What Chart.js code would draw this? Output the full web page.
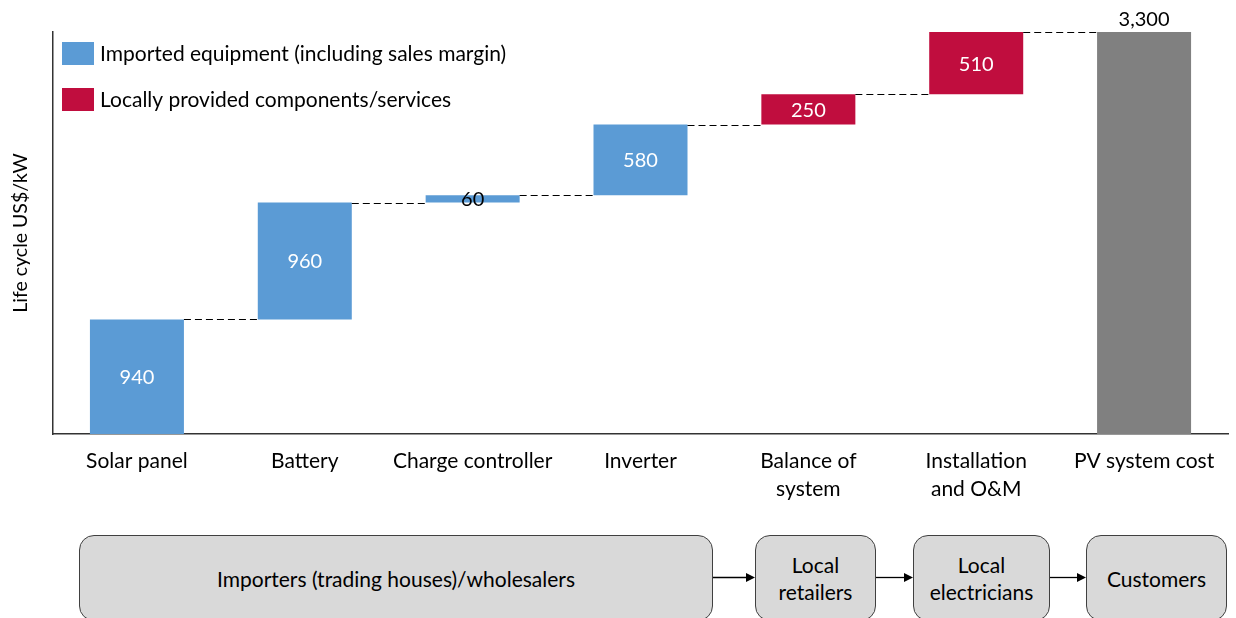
<!DOCTYPE html>
<html>
<head>
<meta charset="utf-8">
<script src="https://cdn.jsdelivr.net/npm/chart.js@4.4.0/dist/chart.umd.min.js"></script>
<style>
body { margin:0; background:#fff; overflow:hidden; }
#wrap { position:relative; width:1236px; height:618px; overflow:hidden; font-family: Lato, sans-serif; }
#c { position:absolute; left:0; top:0; }
.box { position:absolute; top:535px; height:86px; background:#d9d9d9; border:1.5px solid #404040; border-radius:15px;
  box-sizing:border-box; display:flex; align-items:center; justify-content:center; text-align:center;
  font-size:21px; line-height:27px; color:#000; }
svg { position:absolute; left:0; top:0; }
</style>
</head>
<body>
<div id="wrap">
<canvas id="c" width="1236" height="618"></canvas>
<div id="flow"></div>
<svg width="1236" height="618" id="arrows"></svg>
</div>
<script>
// waterfall data (US$/kW, life cycle)
var categories = [['Solar panel'], ['Battery'], ['Charge controller'], ['Inverter'], ['Balance of', 'system'], ['Installation', 'and O&M'], ['PV system cost']];
var stepValues = [940, 960, 60, 580, 250, 510];
var stepSource = ['imported', 'imported', 'imported', 'imported', 'local', 'local'];
var totalValue = 3300;
var legendLabels = ['Imported equipment (including sales margin)', 'Locally provided components/services'];
var flowLabels = [['Importers (trading houses)/wholesalers'], ['Local', 'retailers'], ['Local', 'electricians'], ['Customers']];

var BLUE = '#5b9bd5', RED = '#c00d3e', GREY = '#808080';

// build floating ranges
var imported = [], local = [], total = [];
var run = 0;
for (var i = 0; i < stepValues.length; i++) {
    var r = [run, run + stepValues[i]];
    imported.push(stepSource[i] === 'imported' ? r : null);
    local.push(stepSource[i] === 'local' ? r : null);
    total.push(null);
    run += stepValues[i];
}
imported.push(null); local.push(null); total.push([0, totalValue]);

function fmt(v) { return v.toLocaleString('en-US'); }

var extras = {
    id: 'extras',
    afterDatasetsDraw: function (chart) {
        var ctx = chart.ctx;
        var y = chart.scales.y;
        var area = chart.chartArea;
        // collect bars per category
        var bars = [];
        chart.data.datasets.forEach(function (ds, di) {
            var meta = chart.getDatasetMeta(di);
            ds.data.forEach(function (d, k) {
                if (d) bars[k] = { el: meta.data[k], range: d, ds: di };
            });
        });
        // dashed connectors
        ctx.save();
        ctx.strokeStyle = '#000';
        ctx.lineWidth = 1;
        ctx.setLineDash([7, 4]);
        for (var k = 0; k < bars.length - 1; k++) {
            var a = bars[k].el, b = bars[k + 1].el;
            var yy = Math.round(y.getPixelForValue(bars[k].range[1])) + 0.5;
            ctx.beginPath();
            ctx.moveTo(a.x + a.width / 2, yy);
            ctx.lineTo(b.x - b.width / 2, yy);
            ctx.stroke();
        }
        ctx.restore();
        // value labels
        ctx.save();
        ctx.font = '20px Lato';
        ctx.textAlign = 'center';
        bars.forEach(function (b, k) {
            var v = b.range[1] - b.range[0];
            var el = b.el;
            if (b.ds === 2) {
                ctx.fillStyle = '#000';
                ctx.textBaseline = 'bottom';
                ctx.fillText(fmt(v), el.x, el.y - 2);
            } else {
                ctx.fillStyle = v < 100 ? '#000' : '#fff';
                ctx.textBaseline = 'middle';
                ctx.fillText(fmt(v), el.x, (el.y + el.base) / 2 + 1);
            }
        });
        ctx.restore();
        // legend in top-left of plot
        ctx.save();
        ctx.font = '21px Lato';
        ctx.textBaseline = 'middle';
        ctx.textAlign = 'left';
        var cols = [BLUE, RED];
        legendLabels.forEach(function (t, k) {
            var top = area.top + 10 + k * 46;
            ctx.fillStyle = cols[k];
            ctx.fillRect(area.left + 9, top, 32, 23);
            ctx.fillStyle = '#000';
            ctx.fillText(t, area.left + 47, top + 12);
        });
        ctx.restore();
    }
};

new Chart(document.getElementById('c'), {
    type: 'bar',
    data: {
        labels: categories,
        datasets: [
            { label: legendLabels[0], data: imported, backgroundColor: BLUE },
            { label: legendLabels[1], data: local, backgroundColor: RED },
            { label: 'PV system cost', data: total, backgroundColor: GREY }
        ]
    },
    options: {
        responsive: false,
        animation: false,
        layout: { padding: { left: 0, top: 32, right: 8, bottom: 104 } },
        datasets: { bar: { grouped: false, barPercentage: 0.56, categoryPercentage: 1 } },
        plugins: { legend: { display: false }, tooltip: { enabled: false } },
        scales: {
            x: {
                grid: { display: false, drawTicks: false },
                border: { display: true, color: '#333', width: 1.5 },
                ticks: { color: '#000', font: { family: 'Lato', size: 21, lineHeight: 1.3 }, padding: 14, maxRotation: 0, autoSkip: false },
                afterFit: function (s) { s.height = 80; }
            },
            y: {
                min: 0, max: totalValue,
                grid: { display: false, drawTicks: false },
                border: { display: true, color: '#333', width: 1.5 },
                ticks: { display: false },
                title: { display: true, text: 'Life cycle US$/kW', color: '#000', font: { family: 'Lato', size: 19.5 }, padding: { top: 9, bottom: 0 } },
                afterFit: function (s) { s.width = 53; }
            }
        }
    },
    plugins: [extras]
});

// supply chain boxes below the chart
var boxX = [[79, 713], [755, 876], [913, 1050], [1086, 1227]];
var flow = document.getElementById('flow');
flowLabels.forEach(function (lines, k) {
    var d = document.createElement('div');
    d.className = 'box';
    d.style.left = boxX[k][0] + 'px';
    d.style.width = (boxX[k][1] - boxX[k][0]) + 'px';
    d.innerHTML = lines.join('<br>');
    flow.appendChild(d);
});
var svg = document.getElementById('arrows');
var s = '';
for (var k = 0; k < boxX.length - 1; k++) {
    var x1 = boxX[k][1], x2 = boxX[k + 1][0];
    s += '<line x1="' + x1 + '" y1="577.5" x2="' + (x2 - 8) + '" y2="577.5" stroke="#000" stroke-width="1.3"/>';
    s += '<polygon points="' + (x2 - 9) + ',573 ' + x2 + ',577.5 ' + (x2 - 9) + ',582" fill="#000"/>';
}
svg.innerHTML = s;
</script>
</body>
</html>
